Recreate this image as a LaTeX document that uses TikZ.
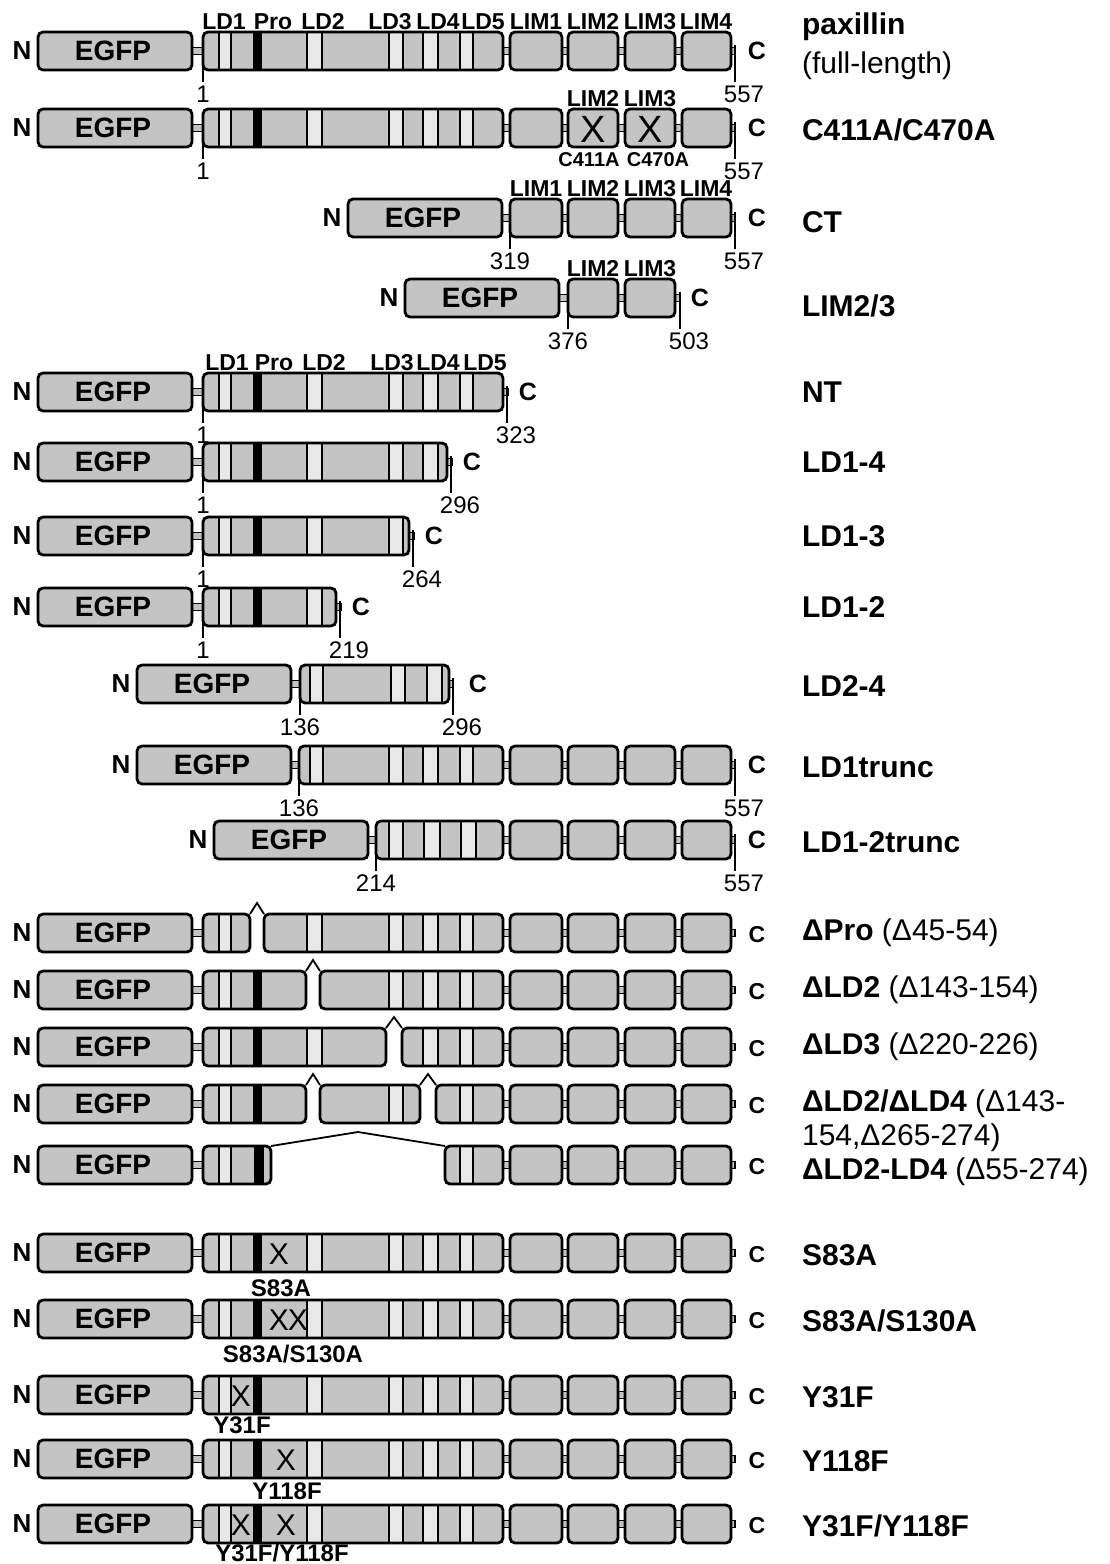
\documentclass[tikz,border=0pt]{standalone}
\usepackage{fontspec}
\setmainfont{Liberation Sans}
\definecolor{boxgray}{HTML}{C4C4C4}
\definecolor{bandgray}{HTML}{E8E8E8}

\tikzset{
  outline/.style={line width=1.4pt, rounded corners=2.5pt},
  band/.style={line width=0.9pt, fill=bandgray},
  linkerbar/.style={line width=0.7pt, fill=boxgray},
  tick/.style={line width=1pt},
  caretline/.style={line width=0.9pt},
  egfptext/.style={font=\bfseries\fontsize{14}{16}\selectfont},
  nterm/.style={font=\bfseries\fontsize{13}{15}\selectfont},
  cterm/.style={font=\bfseries\fontsize{12.5}{14}\selectfont},
  csmall/.style={font=\bfseries\fontsize{11.5}{13}\selectfont},
  domtext/.style={font=\bfseries\fontsize{11.5}{13}\selectfont, anchor=base},
  numtext/.style={font=\fontsize{12}{14}\selectfont},
  muttext/.style={font=\bfseries\fontsize{12}{14}\selectfont},
  xmark/.style={font=\fontsize{15}{17}\selectfont},
  namebold/.style={font=\bfseries\fontsize{15}{18}\selectfont, anchor=west},
  nameplain/.style={font=\fontsize{15}{18}\selectfont, anchor=west}
}

% EGFP block with its N terminus; #1 left edge, #2 row
\newcommand{\egfp}[2]{%
  \filldraw[outline, fill=boxgray] (#1,#2-19) rectangle (#1+154,#2+19);
  \node[egfptext] at (#1+75,#2) {EGFP};
  \node[nterm] at (#1-16,#2) {N};
}
\newcommand{\linker}[3]{\filldraw[linkerbar] (#1,#3-3.5) rectangle (#2,#3+3.5);}
% LD region piece with light LD bands
\newcommand{\ldbox}[4]{%
  \edef\bandlist{#4}%
  \fill[boxgray, rounded corners=2.5pt] (#1,#3-19) rectangle (#2,#3+19);
  \foreach \a/\b in \bandlist {\filldraw[band] (\a,#3-19) rectangle (\b,#3+19);}
  \draw[outline] (#1,#3-19) rectangle (#2,#3+19);
}
\newcommand{\probar}[3]{\fill (#1,#3-19.6) rectangle (#2,#3+19.6);}
\newcommand{\limbox}[3]{\filldraw[outline, fill=boxgray] (#1,#3-19) rectangle (#2,#3+19);}
\newcommand{\limchain}[1]{%
  \foreach \a/\b in {510/562,568/618,625/675,682/731}{\limbox{\a}{\b}{#1}}}
\newcommand{\resstart}[3]{%
  \draw[tick] (#1,#2+15) -- (#1,#2+31);
  \node[numtext] at (#1,#2+43) {#3};}
\newcommand{\resstop}[3]{%
  \draw[tick] (#1,#2-6) -- (#1,#2+31);
  \node[numtext] at (#1+9,#2+43) {#3};}
\newcommand{\fullrow}[1]{%
  \linker{185}{210}{#1}\linker{498}{735}{#1}
  \egfp{38}{#1}
  \ldbox{203}{503}{#1}{219/231,307/322,389/403,423/438,460/473}
  \probar{253}{262}{#1}
  \limchain{#1}
}

\begin{document}
\begin{tikzpicture}[x=0.5pt, y=-0.5pt]
  \useasboundingbox (0,0) rectangle (1109,1564);

  % full-length paxillin
  \fullrow{51}
  \resstart{203}{51}{1}
  \resstop{735}{51}{557}
  \node[cterm] at (757,51) {C};
  \foreach \x/\t in {224/LD1,273/Pro,323/LD2,390/LD3,438/LD4,483/LD5,536/LIM1,593/LIM2,650/LIM3,706/LIM4}
    \node[domtext] at (\x,29) {\t};
  \node[namebold] (pax) at (795,27) {paxillin};
  \node[nameplain] (paxfl) at (795,66) {(full-length)};

  % C411A/C470A
  \fullrow{128}
  \resstart{203}{128}{1}
  \resstop{735}{128}{557}
  \node[cterm] at (757,128) {C};
  \foreach \x/\t in {593/LIM2,650/LIM3}{
    \node[domtext] at (\x,106) {\t};
    \node[font=\fontsize{19}{21}\selectfont] at (\x,129) {X};
  }
  \node[muttext, font=\bfseries\fontsize{10}{12}\selectfont] at (589,160) {C411A};
  \node[muttext, font=\bfseries\fontsize{10}{12}\selectfont] at (658,160) {C470A};
  \node[namebold] (cmut) at (795,130) {C411A/C470A};

  % CT
  \linker{495}{735}{218}
  \egfp{348}{218}
  \limchain{218}
  \resstart{510}{218}{319}
  \resstop{735}{218}{557}
  \node[cterm] at (757,218) {C};
  \foreach \x/\t in {536/LIM1,593/LIM2,650/LIM3,706/LIM4}
    \node[domtext] at (\x,196) {\t};
  \node[namebold] (ct) at (795,222) {CT};

  % LIM2/3
  \linker{552}{680}{298}
  \egfp{405}{298}
  \limbox{568}{618}{298}\limbox{625}{675}{298}
  \resstart{568}{298}{376}
  \resstop{680}{298}{503}
  \node[cterm] at (700,298) {C};
  \foreach \x/\t in {593/LIM2,650/LIM3}
    \node[domtext] at (\x,276) {\t};
  \node[namebold] (lim23) at (795,306) {LIM2/3};

  % NT and LD truncations
  \foreach \y/\e/\bands/\num/\nm in {
      392/503/{219/231,307/322,389/403,423/438,460/473}/323/NT,
      462/447/{219/231,307/322,389/403,423/438}/296/LD1-4,
      536/409/{219/231,307/322,389/403}/264/LD1-3,
      607/336/{219/231,307/322}/219/LD1-2}{
    \linker{185}{\e+5}{\y}
    \egfp{38}{\y}
    \ldbox{203}{\e}{\y}{\bands}
    \probar{253}{262}{\y}
    \resstart{203}{\y}{1}
    \resstop{\e+4}{\y}{\num}
    \node[cterm] at (\e+25,\y) {C};
    \node[namebold] at (795,\y) {\nm};
  }
  \foreach \x/\t in {227/LD1,274/Pro,324/LD2,392/LD3,438/LD4,485/LD5}
    \node[domtext] at (\x,370) {\t};

  % LD2-4
  \linker{285}{453}{684}
  \egfp{137}{684}
  \ldbox{300}{449}{684}{310/323,391/405,427/442}
  \resstart{300}{684}{136}
  \resstop{453}{684}{296}
  \node[cterm] at (478,684) {C};
  \node[namebold] (ld24) at (795,686) {LD2-4};

  % LD1trunc
  \linker{285}{735}{765}
  \egfp{137}{765}
  \ldbox{299}{503}{765}{310/323,389/403,423/438,460/473}
  \limchain{765}
  \resstart{299}{765}{136}
  \resstop{735}{765}{557}
  \node[cterm] at (757,765) {C};
  \node[namebold] (ld1t) at (795,767) {LD1trunc};

  % LD1-2trunc
  \linker{362}{735}{840}
  \egfp{214}{840}
  \ldbox{376}{503}{840}{389/403,424/440,461/476}
  \limchain{840}
  \resstart{376}{840}{214}
  \resstop{735}{840}{557}
  \node[cterm] at (757,840) {C};
  \node[namebold] (ld12t) at (795,842) {LD1-2trunc};

  % deletion mutants
  \linker{185}{210}{933}\linker{498}{735}{933}
  \egfp{38}{933}
  \ldbox{203}{250}{933}{219/231}
  \ldbox{264}{503}{933}{307/322,389/403,423/438,460/473}
  \draw[caretline] (250,914) -- (257,903) -- (264,914);
  \limchain{933}
  \node[csmall] at (757,935) {C};
  \node[namebold] (dpro) at (795,933) {ΔPro \textmd{(Δ45-54)}};

  \linker{185}{210}{990}\linker{498}{735}{990}
  \egfp{38}{990}
  \ldbox{203}{306}{990}{219/231}
  \probar{253}{262}{990}
  \ldbox{320}{503}{990}{389/403,423/438,460/473}
  \draw[caretline] (306,971) -- (313,960) -- (320,971);
  \limchain{990}
  \node[csmall] at (757,992) {C};
  \node[namebold] (dld2) at (795,990) {ΔLD2 \textmd{(Δ143-154)}};

  \linker{185}{210}{1047}\linker{498}{735}{1047}
  \egfp{38}{1047}
  \ldbox{203}{386}{1047}{219/231,307/322}
  \probar{253}{262}{1047}
  \ldbox{402}{503}{1047}{423/438,460/473}
  \draw[caretline] (386,1028) -- (394,1017) -- (402,1028);
  \limchain{1047}
  \node[csmall] at (757,1049) {C};
  \node[namebold] (dld3) at (795,1047) {ΔLD3 \textmd{(Δ220-226)}};

  \linker{185}{210}{1104}\linker{498}{735}{1104}
  \egfp{38}{1104}
  \ldbox{203}{306}{1104}{219/231}
  \probar{253}{262}{1104}
  \ldbox{320}{420}{1104}{389/403}
  \ldbox{436}{503}{1104}{460/473}
  \draw[caretline] (306,1085) -- (313,1074) -- (320,1085);
  \draw[caretline] (420,1085) -- (428,1074) -- (436,1085);
  \limchain{1104}
  \node[csmall] at (757,1106) {C};
  \node[namebold] (dld24a) at (795,1104) {ΔLD2/ΔLD4 \textmd{(Δ143-}};
  \node[nameplain] (dld24b) at (795,1138) {154,Δ265-274)};

  \linker{185}{210}{1165}\linker{498}{735}{1165}
  \egfp{38}{1165}
  \ldbox{203}{271}{1165}{219/231}
  \probar{254}{264}{1165}
  \ldbox{445}{503}{1165}{460/473}
  \draw[caretline] (271,1146) -- (358,1132) -- (445,1146);
  \limchain{1165}
  \node[csmall] at (757,1167) {C};
  \node[namebold] (dld2to4) at (795,1172) {ΔLD2-LD4 \textmd{(Δ55-274)}};

  % point mutants
  \foreach \y/\xs/\lx/\ly/\t in {
      1253/{279}/281/1288/S83A,
      1319/{279,298}/293/1354/S83A\slash S130A,
      1395/{241}/242/1425/Y31F,
      1459/{286}/287/1491/Y118F,
      1524/{241,286}/282/1553/Y31F\slash Y118F}{
    \fullrow{\y}
    \foreach \x in \xs \node[xmark] at (\x,\y+1) {X};
    \node[muttext] at (\lx,\ly) {\t};
    \node[csmall] at (757,\y+2) {C};
    \node[namebold] at (795,\y+2) {\t};
  }
\end{tikzpicture}
\end{document}
